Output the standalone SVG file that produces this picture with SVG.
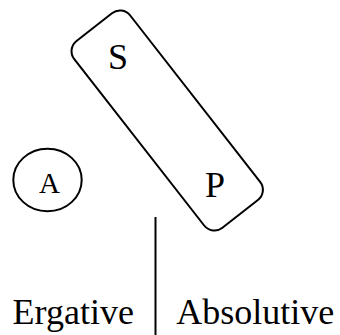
<svg xmlns="http://www.w3.org/2000/svg" width="340" height="335" viewBox="0 0 340 335">
  <style>
    .shape { fill: none; stroke: #000; stroke-width: 2; }
    .lbl { font-family: "Liberation Serif", "Times New Roman", serif; fill: #000; }
    .big { font-size: 36px; }
  </style>
  <rect width="340" height="335" fill="#fff"/>
  <!-- S/P grouping -->
  <g id="sp-group">
    <rect class="shape" x="-118.5" y="-35.5" width="237" height="71" rx="13" ry="13" transform="translate(167.2 120.5) rotate(52)"/>
    <text class="lbl big" x="108" y="69">S</text>
    <text class="lbl big" x="205" y="196.7">P</text>
  </g>
  <!-- A node -->
  <g id="node-a">
    <ellipse class="shape" cx="47.5" cy="180" rx="34.2" ry="31.3"/>
    <text class="lbl" font-size="29" x="49.5" y="193" text-anchor="middle">A</text>
  </g>
  <!-- divider between the two case labels -->
  <g id="connectors">
    <line class="shape" x1="155.5" y1="217" x2="155.5" y2="335"/>
  </g>
  <g id="labels">
    <text class="lbl big" x="12.6" y="324">Ergative</text>
    <text class="lbl big" x="176.2" y="324">Absolutive</text>
  </g>
</svg>
